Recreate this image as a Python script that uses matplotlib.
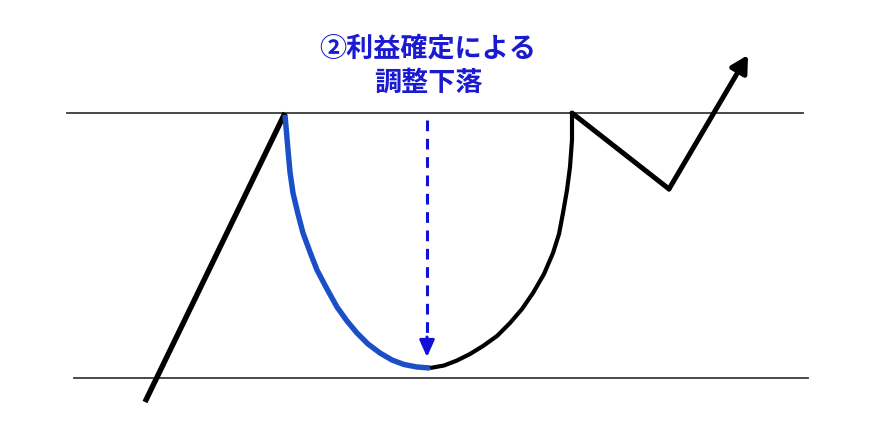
import matplotlib

matplotlib.use("Agg")
import matplotlib.pyplot as plt

plt.rcParams["font.family"] = ["Noto Sans CJK JP", "DejaVu Sans"]

# price path in picture units (x right, y down)
rise_x = [145, 285]
rise_y = [402, 113]

drop_x = [285, 288, 290, 293, 298, 303, 310, 317, 327, 337, 347, 357, 368, 380, 392, 404, 417, 430]
drop_y = [115, 150, 172, 193, 214, 233, 252, 270, 289, 307, 321, 333, 344, 353, 360, 364.5, 367, 368]

recover_x = [430, 444, 457, 470, 483, 497, 510, 522, 533, 544, 553, 559, 563, 567, 570, 572, 572]
recover_y = [368, 365.5, 360.5, 354, 346, 336, 323, 309, 293, 274, 253, 234, 213, 190, 167, 140, 113]

handle_x = [572, 669]
handle_y = [113, 189]
breakout_start = (669, 189)
breakout_end = (748, 55)

resistance_y = 113
resistance_span = (67, 803)
support_y = 378
support_span = (74, 808)

drop_arrow_x = 427
drop_arrow_from = 120
drop_arrow_to = 357

label_text = "②利益確定による\n調整下落"
label_pos = (428, 66)

fig = plt.figure(figsize=(8.96, 4.43), dpi=100)
ax = fig.add_axes([0, 0, 1, 1])
ax.set_xlim(0, 896)
ax.set_ylim(443, 0)
ax.axis("off")

ax.plot(resistance_span, [resistance_y] * 2, color="#3a3a3a", lw=1.3)
ax.plot(support_span, [support_y] * 2, color="#3a3a3a", lw=1.3)

ax.plot(rise_x, rise_y, color="black", lw=3.9, solid_capstyle="butt", solid_joinstyle="round")
ax.plot(drop_x, drop_y, color="#1a4fc8", lw=3.9, solid_capstyle="butt", solid_joinstyle="round")
ax.plot(recover_x, recover_y, color="black", lw=3.0, solid_capstyle="butt", solid_joinstyle="round")
ax.plot(handle_x, handle_y, color="black", lw=3.6, solid_capstyle="round", solid_joinstyle="round")
ax.annotate(
    "",
    xy=breakout_end,
    xytext=breakout_start,
    arrowprops=dict(arrowstyle="-|>,head_length=1.0,head_width=0.55", color="black", lw=3.6,
                    shrinkA=0, shrinkB=0),
)

ax.plot([drop_arrow_x, drop_arrow_x], [drop_arrow_from, drop_arrow_to - 18], color="#1010d8",
        lw=2.2, linestyle=(0, (3.5, 2.5)))
ax.annotate(
    "",
    xy=(drop_arrow_x, drop_arrow_to),
    xytext=(drop_arrow_x, drop_arrow_to - 20),
    arrowprops=dict(arrowstyle="-|>,head_length=1.0,head_width=0.45", color="#1010d8", lw=2.2,
                    shrinkA=0, shrinkB=0),
)

ax.text(label_pos[0], label_pos[1], label_text, color="#1a1ad0", fontsize=19.5, fontweight="bold",
        ha="center", va="center", linespacing=1.3)

fig.savefig("out.png", dpi=100, facecolor="white")
